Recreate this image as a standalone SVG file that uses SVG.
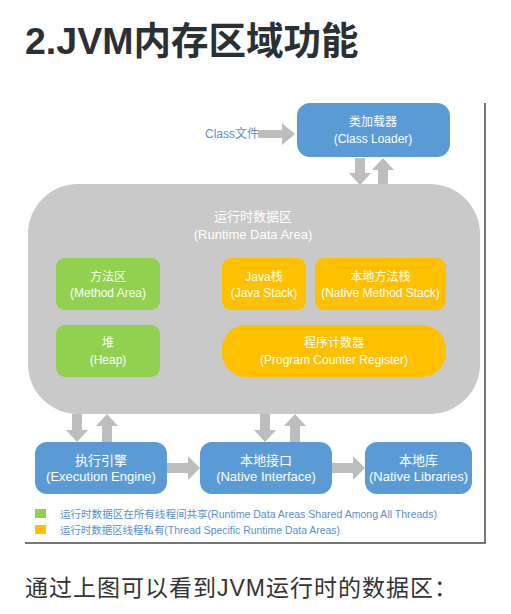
<svg xmlns="http://www.w3.org/2000/svg" width="511" height="614" viewBox="0 0 511 614">
<style>
.t{font-family:"Liberation Sans","Noto Sans CJK SC",sans-serif;fill:#fff;font-size:12px;text-anchor:middle}
.blue{fill:#5b9bd5}
.green{fill:#92d050}
.orange{fill:#ffc000}
.arr{fill:#bdbdbd}
.leg{font-family:"Liberation Sans","Noto Sans CJK SC",sans-serif;fill:#5b8fc9;font-size:10.5px}
</style>
<rect width="511" height="614" fill="#fff"/>
<text x="25" y="54" font-family="Liberation Sans,'Noto Sans CJK SC',sans-serif" font-weight="bold" font-size="37.5" fill="#2b3035">2.JVM内存区域功能</text>

<g id="frame" fill="none" stroke="#4a4a4a" stroke-width="1.5">
<line x1="485" y1="103" x2="485" y2="543"/>
<line x1="25" y1="543" x2="485.75" y2="543"/>
</g>

<g id="connectors">
<polygon class="arr" points="258,130 282,130 282,123 295,134 282,145 282,138 258,138"/>
<polygon class="arr" points="355,158 365,158 365,173 371,173 360,185 349,173 355,173"/>
<polygon class="arr" points="378,185 388,185 388,170 394,170 383,158 372,170 378,170"/>
<polygon class="arr" points="72,414 82,414 82,430 88,430 77,442 66,430 72,430"/>
<polygon class="arr" points="102,442 112,442 112,426 118,426 107,414 96,426 102,426"/>
<polygon class="arr" points="260,414 270,414 270,430 276,430 265,442 254,430 260,430"/>
<polygon class="arr" points="290,442 300,442 300,426 306,426 295,414 284,426 290,426"/>
<polygon class="arr" points="167,463 188,463 188,456 200,468 188,480 188,473 167,473"/>
<polygon class="arr" points="332,463 353,463 353,456 365,468 353,480 353,473 332,473"/>
</g>

<g id="class-file"><text x="205" y="138" class="leg" style="font-size:12px">Class文件</text></g>

<g id="class-loader">
<rect x="297" y="103" width="153" height="54" rx="13" class="blue"/>
<text x="373" y="126" class="t">类加载器</text>
<text x="373" y="143" class="t">(Class Loader)</text>
</g>

<g id="runtime-data-area">
<rect x="28" y="184" width="452" height="230" rx="50" fill="#c9c9c9"/>
<text x="253" y="221" class="t" style="font-size:13px">运行时数据区</text>
<text x="253" y="239" class="t" style="font-size:13px">(Runtime Data Area)</text>
</g>

<g id="method-area">
<rect x="56" y="258" width="104" height="52" rx="9" class="green"/>
<text x="108" y="281" class="t">方法区</text>
<text x="108" y="297" class="t">(Method Area)</text>
</g>
<g id="heap">
<rect x="56" y="325" width="104" height="52" rx="9" class="green"/>
<text x="108" y="347" class="t">堆</text>
<text x="108" y="364" class="t">(Heap)</text>
</g>
<g id="java-stack">
<rect x="222" y="258" width="84" height="52" rx="9" class="orange"/>
<text x="264" y="281" class="t">Java栈</text>
<text x="264" y="297" class="t">(Java Stack)</text>
</g>
<g id="native-method-stack">
<rect x="315" y="258" width="131" height="52" rx="9" class="orange"/>
<text x="380.5" y="281" class="t">本地方法栈</text>
<text x="380.5" y="297" class="t">(Native Method Stack)</text>
</g>
<g id="pc-register">
<rect x="222" y="325" width="224" height="52" rx="24" class="orange"/>
<text x="334" y="347" class="t">程序计数器</text>
<text x="334" y="364" class="t">(Program Counter Register)</text>
</g>

<g id="execution-engine">
<rect x="35" y="442" width="132" height="52" rx="12" class="blue"/>
<text x="101" y="465" class="t" style="font-size:13px">执行引擎</text>
<text x="101" y="481" class="t" style="font-size:13px">(Execution Engine)</text>
</g>
<g id="native-interface">
<rect x="200" y="442" width="132" height="52" rx="12" class="blue"/>
<text x="266" y="465" class="t" style="font-size:13px">本地接口</text>
<text x="266" y="481" class="t" style="font-size:13px">(Native Interface)</text>
</g>
<g id="native-libraries">
<rect x="365" y="442" width="107" height="52" rx="12" class="blue"/>
<text x="418.5" y="465" class="t" style="font-size:13px">本地库</text>
<text x="418.5" y="481" class="t" style="font-size:13px">(Native Libraries)</text>
</g>

<g id="legend">
<rect x="35" y="509" width="11" height="9" class="green"/>
<text x="60" y="518" class="leg" textLength="377" lengthAdjust="spacingAndGlyphs">运行时数据区在所有线程间共享(Runtime Data Areas Shared Among All Threads)</text>
<rect x="35" y="525" width="11" height="9" class="orange"/>
<text x="60" y="534" class="leg" textLength="280" lengthAdjust="spacingAndGlyphs">运行时数据区线程私有(Thread Specific Runtime Data Areas)</text>
</g>

<text x="25" y="596" font-family="Liberation Sans,'Noto Sans CJK SC',sans-serif" font-size="23" letter-spacing="1" fill="#333">通过上图可以看到JVM运行时的数据区：</text>
</svg>
